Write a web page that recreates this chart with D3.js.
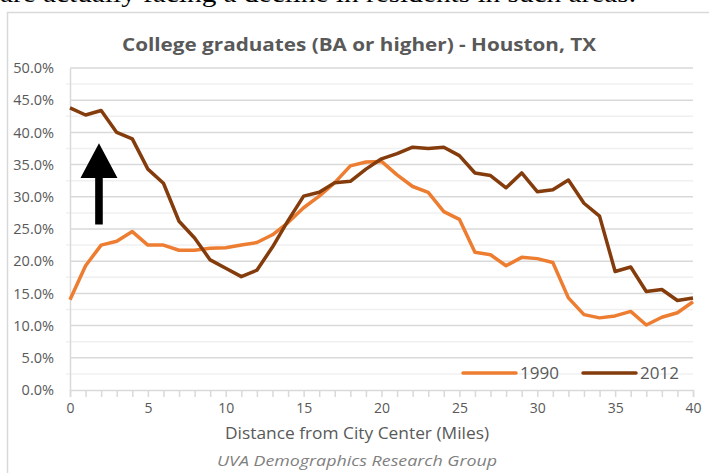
<!DOCTYPE html>
<html>
<head>
<meta charset="utf-8">
<script src="https://cdn.jsdelivr.net/npm/d3@7"></script>
<style>
  body { margin: 0; background: #fff; }
  svg { display: block; }
</style>
</head>
<body>
<script>
// data //
const miles = d3.range(0, 41);
const grads1990 = [14.0, 19.3, 22.5, 23.1, 24.6, 22.5, 22.5, 21.7, 21.7, 22.0,
                   22.1, 22.5, 22.9, 24.1, 26.0, 28.3, 30.1, 32.2, 34.8, 35.4,
                   35.5, 33.4, 31.6, 30.7, 27.7, 26.5, 21.4, 21.0, 19.3, 20.6,
                   20.4, 19.8, 14.3, 11.7, 11.2, 11.5, 12.2, 10.1, 11.3, 12.0, 13.7];
const grads2012 = [43.8, 42.7, 43.4, 40.0, 39.0, 34.3, 32.1, 26.2, 23.6, 20.2,
                   18.9, 17.6, 18.6, 22.2, 26.3, 30.1, 30.7, 32.2, 32.4, 34.3,
                   35.9, 36.7, 37.7, 37.5, 37.7, 36.4, 33.7, 33.3, 31.4, 33.7,
                   30.8, 31.1, 32.6, 29.0, 27.0, 18.4, 19.1, 15.3, 15.6, 13.9, 14.3];
const seriesNames = ['1990', '2012'];
const yTicks = [0, 5, 10, 15, 20, 25, 30, 35, 40, 45, 50];
const xTicks = [0, 5, 10, 15, 20, 25, 30, 35, 40];

const W = 709, H = 473;
const grey = '#595959';
const colors = { '1990': '#ED7D31', '2012': '#843C0C' };

const svg = d3.select('body').append('svg')
  .attr('width', W)
  .attr('height', H);

// cut-off line of text above the chart //
svg.append('text')
  .attr('x', 0)
  .attr('y', 2)
  .attr('font-family', 'Liberation Serif, serif')
  .attr('font-size', 26)
  .attr('textLength', 636)
  .attr('lengthAdjust', 'spacingAndGlyphs')
  .attr('fill', '#000')
  .text('are actually facing a decline in residents in such areas.');

// chart frame //
svg.append('path')
  .attr('d', 'M7.5,' + H + 'V12.5H' + W)
  .attr('fill', 'none')
  .attr('stroke', '#d9d9d9')
  .attr('stroke-width', 1.5);

// scales //
let x = d3.scaleLinear().domain([0, 40]).range([70, 693]);
let y = d3.scaleLinear().domain([0, 50]).range([390, 68]);

// gridlines, minor then major //
svg.append('g')
  .selectAll('line')
  .data(d3.range(2.5, 50, 5))
  .join('line')
  .attr('x1', x(0) - 4).attr('x2', x(40))
  .attr('y1', d => y(d)).attr('y2', d => y(d))
  .attr('stroke', '#f0f0f0')
  .attr('stroke-width', 1.5);

svg.append('g')
  .selectAll('line')
  .data(yTicks.slice(1))
  .join('line')
  .attr('x1', x(0)).attr('x2', x(40))
  .attr('y1', d => y(d)).attr('y2', d => y(d))
  .attr('stroke', '#d9d9d9')
  .attr('stroke-width', 1.5);

// y axis //
let yAxis = svg.append('g')
  .attr('transform', 'translate(' + x(0) + ',0)')
  .call(d3.axisLeft(y).tickValues(yTicks).tickSize(0).tickPadding(16)
    .tickFormat(d => d.toFixed(1) + '%'));
yAxis.select('.domain').attr('stroke', '#d9d9d9').attr('stroke-width', 1.5);
yAxis.selectAll('text')
  .attr('font-family', 'Open Sans, sans-serif')
  .attr('font-size', 14.5)
  .attr('fill', grey);

// x axis //
let xAxis = svg.append('g')
  .attr('transform', 'translate(0,' + y(0) + ')')
  .call(d3.axisBottom(x).tickValues(miles).tickSize(7).tickPadding(6)
    .tickFormat(d => xTicks.includes(d) ? d : ''));
xAxis.select('.domain').attr('stroke', '#d9d9d9').attr('stroke-width', 1.5);
xAxis.selectAll('.tick line').attr('stroke', '#d9d9d9').attr('stroke-width', 1.5);
xAxis.selectAll('text')
  .attr('font-family', 'Open Sans, sans-serif')
  .attr('font-size', 14)
  .attr('fill', grey);

// lines //
let line = d3.line()
  .x((d, i) => x(miles[i]))
  .y(d => y(d));

[[grads1990, '1990'], [grads2012, '2012']].forEach(([vals, name]) => {
  svg.append('path')
    .datum(vals)
    .attr('fill', 'none')
    .attr('stroke', colors[name])
    .attr('stroke-width', 3.5)
    .attr('stroke-linejoin', 'round')
    .attr('d', line);
});

// arrow annotation //
const arrowX = 1.86, arrowTip = 38.3, arrowNeck = 32.9, arrowBase = 25.7;
const headHalf = 18.5, shaftHalf = 3.8;
const ax = x(arrowX);
svg.append('path')
  .attr('d', d3.line()([
    [ax, y(arrowTip)],
    [ax + headHalf, y(arrowNeck)],
    [ax + shaftHalf, y(arrowNeck)],
    [ax + shaftHalf, y(arrowBase)],
    [ax - shaftHalf, y(arrowBase)],
    [ax - shaftHalf, y(arrowNeck)],
    [ax - headHalf, y(arrowNeck)]
  ]) + 'Z')
  .attr('fill', '#000');

// title //
svg.append('text')
  .attr('x', 359)
  .attr('y', 51)
  .attr('text-anchor', 'middle')
  .attr('font-family', 'Open Sans, sans-serif')
  .attr('font-weight', 'bold')
  .attr('font-size', 17)
  .attr('textLength', 474)
  .attr('lengthAdjust', 'spacingAndGlyphs')
  .attr('fill', grey)
  .text('College graduates (BA or higher) - Houston, TX');

// axis title //
svg.append('text')
  .attr('x', 357)
  .attr('y', 439)
  .attr('text-anchor', 'middle')
  .attr('font-family', 'Open Sans, sans-serif')
  .attr('font-size', 16)
  .attr('textLength', 264)
  .attr('lengthAdjust', 'spacingAndGlyphs')
  .attr('fill', grey)
  .text('Distance from City Center (Miles)');

// source //
svg.append('text')
  .attr('x', 357)
  .attr('y', 466)
  .attr('text-anchor', 'middle')
  .attr('font-family', 'Open Sans, sans-serif')
  .attr('font-style', 'italic')
  .attr('font-size', 15)
  .attr('textLength', 280)
  .attr('lengthAdjust', 'spacingAndGlyphs')
  .attr('fill', '#7f7f7f')
  .text('UVA Demographics Research Group');

// legend //
const legendX = [463, 583];
let legend = svg.append('g')
  .selectAll('g')
  .data(seriesNames)
  .join('g')
  .attr('transform', (d, i) => 'translate(' + legendX[i] + ',373)');

legend.append('line')
  .attr('x1', 0).attr('x2', 53)
  .attr('stroke', d => colors[d])
  .attr('stroke-width', 3.5)
  .attr('stroke-linecap', 'round');

legend.append('text')
  .attr('x', 57)
  .attr('y', 6)
  .attr('font-family', 'Open Sans, sans-serif')
  .attr('font-size', 17)
  .attr('fill', grey)
  .text(d => d);
</script>
</body>
</html>
